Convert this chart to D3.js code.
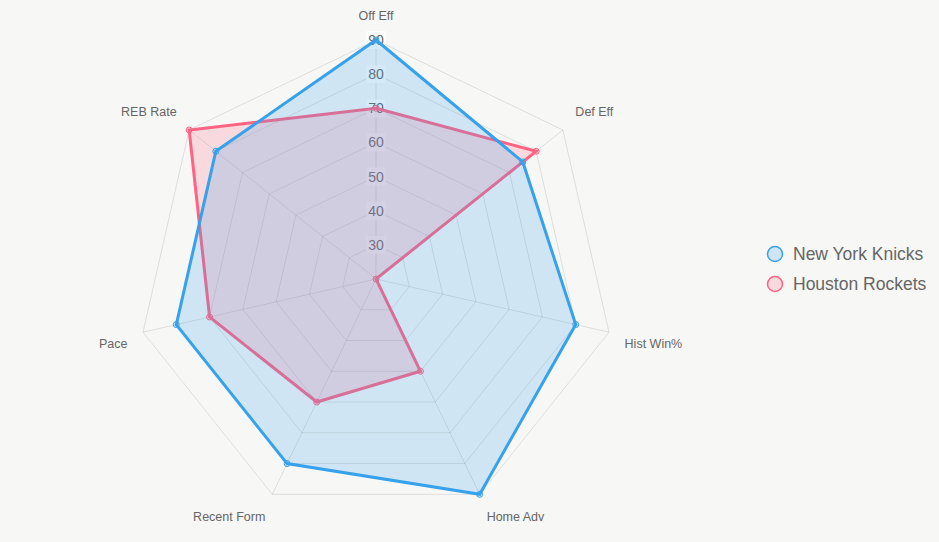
<!DOCTYPE html>
<html>
<head>
<meta charset="utf-8">
<script src="https://cdn.jsdelivr.net/npm/d3@7"></script>
<style>
  html, body { margin: 0; padding: 0; background: #f7f7f5; }
  svg { display: block; font-family: "Liberation Sans", Arial, sans-serif; }
</style>
</head>
<body>
<div id="chart"></div>
<script>
// 数据
const axes = ["Off Eff", "Def Eff", "Hist Win%", "Home Adv", "Recent Form", "Pace", "REB Rate"];
const knicks = [90, 75, 80, 90, 80, 80, 80];
const rockets = [70, 80, 20, 50, 60, 70, 90];
const ticks = [30, 40, 50, 60, 70, 80, 90];
const seriesNames = ["New York Knicks", "Houston Rockets"];
const seriesColors = ["rgb(54,162,235)", "rgb(255,99,132)"];
const seriesFills = ["rgba(54,162,235,0.2)", "rgba(255,99,132,0.2)"];

const width = 939;
const height = 542;
const cx = 376;
const cy = 279;
const radius = 239;

const svg = d3.select("#chart")
    .append("svg")
    .attr("width", width)
    .attr("height", height);

const r = d3.scaleLinear().domain([20, 90]).range([0, radius]);
const angle = i => -Math.PI / 2 + i * 2 * Math.PI / axes.length;
const px = (i, v) => cx + r(v) * Math.cos(angle(i));
const py = (i, v) => cy + r(v) * Math.sin(angle(i));

// 网格
const grid = svg.append("g");
ticks.forEach(t => {
    grid.append("polygon")
        .attr("points", axes.map((a, i) => [px(i, t), py(i, t)].join(",")).join(" "))
        .attr("fill", "none")
        .attr("stroke", "rgba(0,0,0,0.1)")
        .attr("stroke-width", 1);
});
axes.forEach((a, i) => {
    grid.append("line")
        .attr("x1", cx).attr("y1", cy)
        .attr("x2", px(i, 90)).attr("y2", py(i, 90))
        .attr("stroke", "rgba(0,0,0,0.1)")
        .attr("stroke-width", 1);
});

// 轴标签
const labelR = radius + 16;
axes.forEach((a, i) => {
    const deg = i * 360 / axes.length;
    const x = cx + labelR * Math.cos(angle(i));
    let y = cy + labelR * Math.sin(angle(i));
    let anchor = "middle";
    if (deg > 0 && deg < 180) anchor = "start";
    else if (deg > 180) anchor = "end";
    let baseline = "hanging";
    if (deg < 90 || deg > 270) baseline = "auto";
    svg.append("text")
        .attr("x", x)
        .attr("y", baseline === "auto" ? y - 4 : y + 3.5)
        .attr("text-anchor", anchor)
        .attr("dominant-baseline", baseline)
        .attr("font-size", 12.5)
        .attr("fill", "#666")
        .text(a);
});

// 刻度
const tickG = svg.append("g");
ticks.forEach(t => {
    const w = String(t).length * 7.8;
    tickG.append("rect")
        .attr("x", cx - w / 2 - 2)
        .attr("y", cy - r(t) - 9)
        .attr("width", w + 4)
        .attr("height", 18)
        .attr("fill", "rgba(255,255,255,0.75)");
    tickG.append("text")
        .attr("x", cx)
        .attr("y", cy - r(t))
        .attr("text-anchor", "middle")
        .attr("dominant-baseline", "central")
        .attr("font-size", 14)
        .attr("fill", "#666")
        .text(t);
});

// 数据集（后面的先画）
const datasets = [knicks, rockets];
for (let k = datasets.length - 1; k >= 0; k--) {
    const vals = datasets[k];
    const g = svg.append("g");
    g.append("polygon")
        .attr("points", vals.map((v, i) => [px(i, v), py(i, v)].join(",")).join(" "))
        .attr("fill", seriesFills[k])
        .attr("stroke", seriesColors[k])
        .attr("stroke-width", 3)
        .attr("stroke-linejoin", "miter");
    g.selectAll("circle")
        .data(vals)
        .enter()
        .append("circle")
        .attr("cx", (v, i) => px(i, v))
        .attr("cy", (v, i) => py(i, v))
        .attr("r", 3)
        .attr("fill", seriesFills[k])
        .attr("stroke", seriesColors[k])
        .attr("stroke-width", 1);
}

// 图例
const legend = svg.append("g").attr("transform", "translate(775,254)");
seriesNames.forEach((name, k) => {
    legend.append("circle")
        .attr("cx", 0)
        .attr("cy", k * 30)
        .attr("r", 7.5)
        .attr("fill", seriesFills[k])
        .attr("stroke", seriesColors[k])
        .attr("stroke-width", 1.5);
    legend.append("text")
        .attr("x", 18)
        .attr("y", k * 30)
        .attr("dominant-baseline", "central")
        .attr("font-size", 17.5)
        .attr("fill", "#666")
        .text(name);
});
</script>
</body>
</html>
